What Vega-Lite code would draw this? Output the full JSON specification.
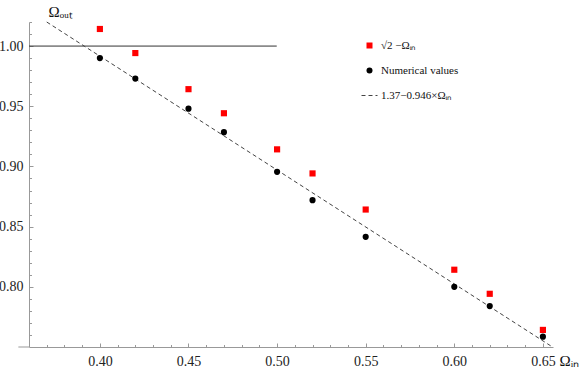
{
  "$schema": "https://vega.github.io/schema/vega-lite/v6.json",
  "width": 524,
  "height": 325,
  "autosize": {"type": "none"},
  "padding": {"left": 29, "top": 22, "right": 28, "bottom": 20},
  "background": "white",
  "config": {
    "view": {"stroke": null},
    "font": "Liberation Serif",
    "axis": {
      "grid": false,
      "domainColor": "#999999",
      "tickColor": "#999999",
      "labelColor": "#222222",
      "labelFont": "Liberation Serif",
      "labelFontSize": 14,
      "labelOverlap": false,
      "titleFont": "Liberation Serif",
      "titleFontSize": 15,
      "titleFontWeight": "normal",
      "titleColor": "#111111"
    }
  },
  "datasets": {
    "points": [
      {"omega_in": 0.40, "omega_out": 1.0142, "series": "sqrt"},
      {"omega_in": 0.42, "omega_out": 0.9942, "series": "sqrt"},
      {"omega_in": 0.45, "omega_out": 0.9642, "series": "sqrt"},
      {"omega_in": 0.47, "omega_out": 0.9442, "series": "sqrt"},
      {"omega_in": 0.50, "omega_out": 0.9142, "series": "sqrt"},
      {"omega_in": 0.52, "omega_out": 0.8942, "series": "sqrt"},
      {"omega_in": 0.55, "omega_out": 0.8642, "series": "sqrt"},
      {"omega_in": 0.60, "omega_out": 0.8142, "series": "sqrt"},
      {"omega_in": 0.62, "omega_out": 0.7942, "series": "sqrt"},
      {"omega_in": 0.65, "omega_out": 0.7642, "series": "sqrt"},
      {"omega_in": 0.40, "omega_out": 0.990, "series": "num"},
      {"omega_in": 0.42, "omega_out": 0.973, "series": "num"},
      {"omega_in": 0.45, "omega_out": 0.948, "series": "num"},
      {"omega_in": 0.47, "omega_out": 0.9285, "series": "num"},
      {"omega_in": 0.50, "omega_out": 0.8955, "series": "num"},
      {"omega_in": 0.52, "omega_out": 0.872, "series": "num"},
      {"omega_in": 0.55, "omega_out": 0.8415, "series": "num"},
      {"omega_in": 0.60, "omega_out": 0.800, "series": "num"},
      {"omega_in": 0.62, "omega_out": 0.784, "series": "num"},
      {"omega_in": 0.65, "omega_out": 0.7586, "series": "num"}
    ],
    "fit": [
      {"omega_in": 0.37, "omega_out": 1.02},
      {"omega_in": 0.6554, "omega_out": 0.75}
    ],
    "unity": [
      {"omega_in": 0.36, "omega_out": 1.0},
      {"omega_in": 0.4998, "omega_out": 1.0}
    ],
    "axisStub": [
      {"omega_in": 0.354, "omega_out": 0.75},
      {"omega_in": 0.36, "omega_out": 0.75}
    ]
  },
  "layer": [
    {
      "data": {"name": "unity"},
      "mark": {"type": "line", "color": "#333333", "strokeWidth": 1},
      "encoding": {
        "x": {
          "field": "omega_in", "type": "quantitative",
          "scale": {"domain": [0.36, 0.6557], "nice": false, "zero": false},
          "axis": {
            "title": "Ωᵢₙ",
            "values": [0.37,0.38,0.39,0.40,0.41,0.42,0.43,0.44,0.45,0.46,0.47,0.48,0.49,0.50,0.51,0.52,0.53,0.54,0.55,0.56,0.57,0.58,0.59,0.60,0.61,0.62,0.63,0.64,0.65],
            "tickCount": 100,
            "labelExpr": "round(datum.value*100) % 5 == 0 ? format(datum.value, '.2f') : ''",
            "tickSize": {"condition": {"test": "round(datum.value*100) % 5 == 0", "value": -4}, "value": -2.5},
            "labelPadding": 11,
            "labelFlush": false,
            "labelOverlap": false,
            "titleAngle": 0,
            "titleAlign": "left",
            "titleBaseline": "alphabetic",
            "titleX": 530,
            "titleY": 18
          }
        },
        "y": {
          "field": "omega_out", "type": "quantitative",
          "scale": {"domain": [0.75, 1.02], "nice": false, "zero": false},
          "axis": {
            "title": "Ωₒᵤₜ",
            "values": [0.76,0.77,0.78,0.79,0.80,0.81,0.82,0.83,0.84,0.85,0.86,0.87,0.88,0.89,0.90,0.91,0.92,0.93,0.94,0.95,0.96,0.97,0.98,0.99,1.00,1.01,1.02],
            "tickCount": 100,
            "labelExpr": "round(datum.value*100) % 5 == 0 ? format(datum.value, '.2f') : ''",
            "tickSize": {"condition": {"test": "round(datum.value*100) % 5 == 0", "value": -4}, "value": -2.5},
            "labelPadding": 10,
            "labelFlush": false,
            "labelOverlap": false,
            "titleAngle": 0,
            "titleAlign": "left",
            "titleBaseline": "alphabetic",
            "titleX": 19,
            "titleY": -6
          }
        }
      }
    },
    {
      "data": {"name": "axisStub"},
      "mark": {"type": "line", "color": "#999999", "strokeWidth": 1, "clip": false},
      "encoding": {
        "x": {"field": "omega_in", "type": "quantitative"},
        "y": {"field": "omega_out", "type": "quantitative"}
      }
    },
    {
      "data": {"name": "fit"},
      "mark": {"type": "line", "color": "#444444", "strokeWidth": 1, "strokeDash": [4, 3]},
      "encoding": {
        "x": {"field": "omega_in", "type": "quantitative"},
        "y": {"field": "omega_out", "type": "quantitative"}
      }
    },
    {
      "data": {"name": "points"},
      "mark": {"type": "point", "filled": true, "size": 38, "opacity": 1},
      "encoding": {
        "x": {"field": "omega_in", "type": "quantitative"},
        "y": {"field": "omega_out", "type": "quantitative"},
        "color": {
          "condition": {"test": "datum.series == 'sqrt'", "value": "#ff0000"},
          "value": "#000000"
        },
        "shape": {
          "field": "series", "type": "nominal",
          "scale": {"domain": ["sqrt", "num", "fit"], "range": ["square", "circle", "stroke"]},
          "legend": {
            "orient": "none",
            "legendX": 335,
            "legendY": 18,
            "title": null,
            "padding": 0,
            "labelFont": "Liberation Serif",
            "labelFontSize": 11,
            "labelColor": "#111111",
            "labelOffset": 6,
            "rowPadding": 13,
            "symbolSize": 40,
            "labelExpr": "datum.value == 'sqrt' ? '√2 −Ωᵢₙ' : datum.value == 'num' ? 'Numerical values' : '1.37−0.946×Ωᵢₙ'",
            "encoding": {
              "symbols": {
                "fill": {"value": {"expr": "datum.value == 'sqrt' ? '#ff0000' : datum.value == 'num' ? '#000000' : 'transparent'"}},
                "stroke": {"value": {"expr": "datum.value == 'fit' ? '#444444' : 'transparent'"}},
                "strokeDash": {"value": {"expr": "datum.value == 'fit' ? [4, 3] : [1, 0]"}},
                "strokeWidth": {"value": 1},
                "opacity": {"value": 1},
                "size": {"value": {"expr": "datum.value == 'fit' ? 256 : 36"}}
              }
            }
          }
        }
      }
    }
  ]
}
